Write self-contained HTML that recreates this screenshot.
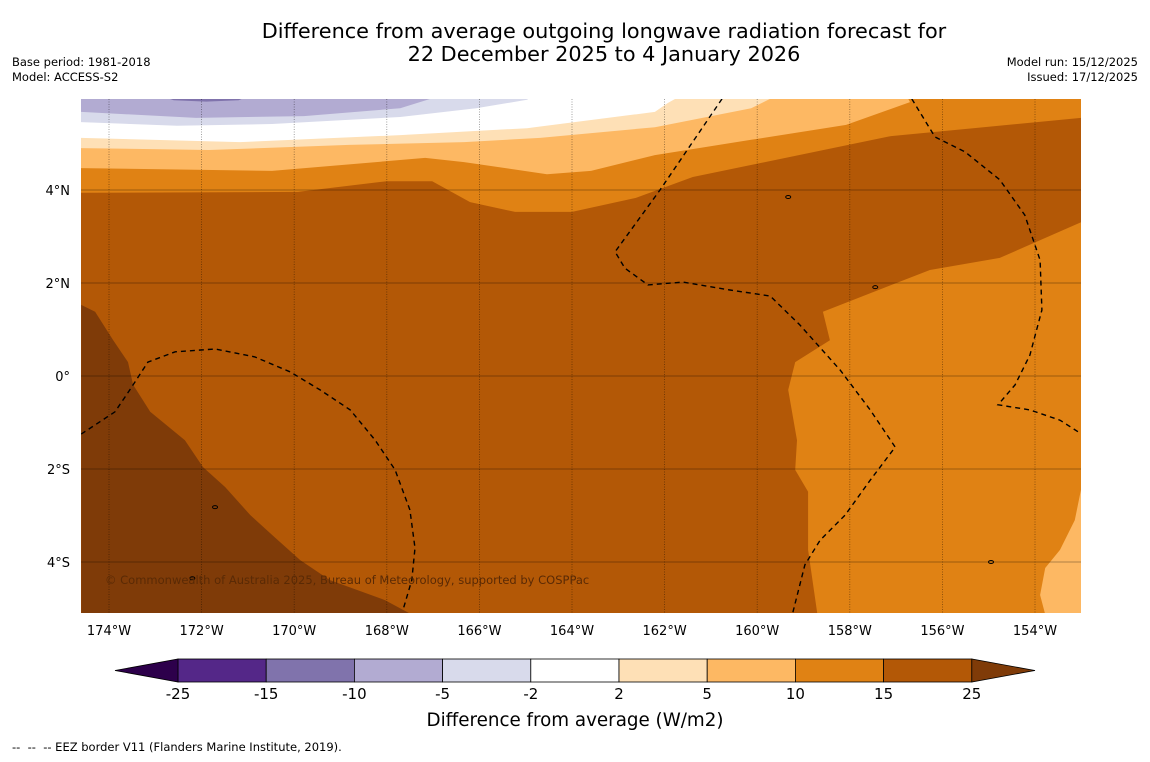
<!DOCTYPE html>
<html><head><meta charset="utf-8">
<style>
body{margin:0;background:#fff;width:1150px;height:758px;overflow:hidden;font-family:"DejaVu Sans",sans-serif;}
svg text{font-family:"DejaVu Sans",sans-serif;}
</style></head>
<body>
<svg id="chart" width="1150" height="758" viewBox="0 0 1150 758" xmlns="http://www.w3.org/2000/svg">
<text x="604" y="38" font-size="20.8" text-anchor="middle" fill="#000">Difference from average outgoing longwave radiation forecast for</text>
<text x="604" y="61" font-size="20.8" text-anchor="middle" fill="#000">22 December 2025 to 4 January 2026</text>
<text x="12" y="66" font-size="11.5">Base period: 1981-2018</text>
<text x="12" y="81" font-size="11.5">Model: ACCESS-S2</text>
<text x="1138" y="66" font-size="11.5" text-anchor="end">Model run: 15/12/2025</text>
<text x="1138" y="81" font-size="11.5" text-anchor="end">Issued: 17/12/2025</text>
<defs><clipPath id="mapclip"><rect x="81" y="99" width="1000" height="514"/></clipPath></defs>
<g id="map" clip-path="url(#mapclip)"></g>
<g id="overlay"></g>
<g id="cbar"></g>
<text x="575" y="726" font-size="18.3" text-anchor="middle">Difference from average (W/m2)</text>
<text x="12" y="751" font-size="11.5" xml:space="preserve">--  --  -- EEZ border V11 (Flanders Marine Institute, 2019).</text>
</svg>
<script>
// ---- data ----
const lonTicks=[-174,-172,-170,-168,-166,-164,-162,-160,-158,-156,-154];
const lonLabels=["174°W","172°W","170°W","168°W","166°W","164°W","162°W","160°W","158°W","156°W","154°W"];
const latTicks=[4,2,0,-2,-4];
const latLabels=["4°N","2°N","0°","2°S","4°S"];
const levels=[-25,-15,-10,-5,-2,2,5,10,15,25];
const levelColors=["#542788","#8073ac","#b2abd2","#d8daeb","#ffffff","#fee0b6","#fdb863","#e08214","#b35806"];
const underColor="#2d004b", overColor="#7f3b08";
const bnd15=[[-174.6,3.94],[-169.92,3.96],[-168.0,4.19],[-167.02,4.19],[-166.2,3.74],[-165.23,3.53],[-164.0,3.53],[-162.62,3.83],[-161.39,4.28],[-157.11,5.16],[-153.0,5.55]];
const bnd10=[[-174.6,4.47],[-170.48,4.41],[-167.17,4.69],[-166.33,4.6],[-164.54,4.34],[-163.59,4.41],[-162.21,4.75],[-160.13,5.08],[-158.08,5.4],[-156.7,5.89],[-156.81,6.1]];
const bnd5=[[-174.6,4.9],[-171.84,4.86],[-168.82,4.97],[-166.33,5.03],[-164.69,5.12],[-162.21,5.35],[-160.13,5.76],[-159.44,6.1]];
const bnd2=[[-174.6,5.12],[-171.17,5.03],[-167.71,5.18],[-164.97,5.33],[-162.21,5.68],[-161.93,5.87],[-161.52,6.1]];
const bndm2=[[-174.6,5.46],[-172.53,5.38],[-170.48,5.42],[-167.71,5.57],[-166.07,5.76],[-164.97,5.94],[-164.76,6.1]];
const bndm5=[[-174.6,5.68],[-172.12,5.55],[-169.79,5.59],[-167.71,5.76],[-166.61,6.1]];
const blobM10=[[-173.1,6.1],[-172.6,5.93],[-171.9,5.9],[-171.2,5.93],[-170.8,6.1]];
const orangeEast=[[-153.0,3.31],[-154.76,2.54],[-156.27,2.28],[-157.56,1.78],[-158.58,1.38],[-158.43,0.77],[-159.18,0.3],[-159.33,-0.3],[-159.14,-1.38],[-159.18,-2.02],[-158.9,-2.49],[-158.9,-3.74],[-158.69,-5.2],[-153.0,-5.2]];
const lightSE=[[-153.0,-2.41],[-153.14,-3.1],[-153.46,-3.74],[-153.78,-4.13],[-153.89,-4.71],[-153.76,-5.2],[-153.0,-5.2]];
const brownSW=[[-174.6,1.53],[-174.3,1.38],[-173.91,0.77],[-173.59,0.3],[-173.48,-0.19],[-173.11,-0.77],[-172.36,-1.38],[-171.97,-1.96],[-171.49,-2.39],[-170.95,-2.99],[-170.41,-3.48],[-169.87,-3.96],[-169.23,-4.39],[-168.04,-4.82],[-167.33,-5.2],[-174.6,-5.2]];
const eez1=[[-160.76,5.96],[-162.1,4.0],[-163.07,2.67],[-162.86,2.32],[-162.36,1.96],[-161.6,2.02],[-160.59,1.85],[-159.72,1.72],[-159.08,1.1],[-158.21,0.13],[-157.56,-0.73],[-157.02,-1.53],[-157.56,-2.24],[-158.1,-2.99],[-158.64,-3.53],[-158.97,-4.06],[-159.23,-5.08]];
const eez2=[[-156.66,5.96],[-156.16,5.14],[-155.51,4.82],[-154.76,4.22],[-154.22,3.46],[-153.89,2.49],[-153.85,1.42],[-154.11,0.45],[-154.43,-0.19],[-154.8,-0.62],[-154.11,-0.73],[-153.46,-0.95],[-153.07,-1.2]];
const eez3=[[-174.6,-1.25],[-173.87,-0.77],[-173.55,-0.3],[-173.16,0.3],[-172.57,0.52],[-171.71,0.58],[-170.85,0.41],[-170.09,0.09],[-169.44,-0.3],[-168.79,-0.73],[-168.25,-1.38],[-167.82,-2.02],[-167.5,-2.88],[-167.39,-3.7],[-167.46,-4.39],[-167.65,-5.03]];
const islands=[[-159.33,3.85],[-157.45,1.91],[-171.71,-2.82],[-172.2,-4.35],[-154.95,-4.0]];

// ---- axes ----
const X0=109,PXLON=46.3,Y0=376,PXLAT=46.5;
const xS=lon=>X0+(lon+174)*PXLON;
const yS=lat=>Y0-lat*PXLAT;
const NS="http://www.w3.org/2000/svg";
const map=document.getElementById('map'),ov=document.getElementById('overlay'),cb=document.getElementById('cbar');
function mk(tag,attrs,parent){const e=document.createElementNS(NS,tag);for(const k in attrs)e.setAttribute(k,attrs[k]);parent.appendChild(e);return e;}
const pts=a=>a.map(p=>xS(p[0]).toFixed(1)+","+yS(p[1]).toFixed(1)).join(" ");
const TOP=6.3;
function above(line){const first=line[0],last=line[line.length-1];return pts([[first[0]-0.1,first[1]],...line,[last[0]+0.1,last[1]],[last[0]+0.1,TOP],[-175,TOP]]);}

let bg=mk('rect',{x:81,y:99,width:1000,height:514,fill:levelColors[8]},map);


const bands=[[bnd15,7,'band-10-15'],[bnd10,6,'band-5-10'],[bnd5,5,'band-2-5'],[bnd2,4,'band-neutral'],[bndm2,3,'band-minus5-minus2'],[bndm5,2,'band-minus10-minus5']];
bands.forEach(b=>{
  const p=mk('polygon',{points:above(b[0]),fill:levelColors[b[1]]},map);
  
  
});
let bl=mk('polygon',{points:pts(blobM10),fill:levelColors[1]},map);


let oe=mk('polygon',{points:pts(orangeEast),fill:levelColors[7]},map);


let ls=mk('polygon',{points:pts(lightSE),fill:levelColors[6]},map);


let bs=mk('polygon',{points:pts(brownSW),fill:overColor},map);



lonTicks.forEach((lon,i)=>{
  const x=xS(lon);
  const g=mk('line',{x1:x,x2:x,y1:99,y2:613,stroke:"#000","stroke-opacity":0.45,"stroke-width":0.8,"stroke-dasharray":"1,1.5"},map);
  
  
  const t=mk('text',{x:x,y:635,"font-size":13,"text-anchor":"middle"},ov);t.textContent=lonLabels[i];
  
  
});
latTicks.forEach((lat,i)=>{
  const y=yS(lat);
  const g=mk('line',{x1:81,x2:1081,y1:y,y2:y,stroke:"#000","stroke-opacity":0.3,"stroke-width":1},map);
  
  
  const t=mk('text',{x:70,y:y+5,"font-size":13,"text-anchor":"end"},ov);t.textContent=latLabels[i];
  
  
});
[eez1,eez2,eez3].forEach(l=>{
  const p=mk('polyline',{points:pts(l),fill:"none",stroke:"#000","stroke-width":1.4,"stroke-dasharray":"5,4"},map);
  
  
});
islands.forEach(p=>{
  const c=mk('ellipse',{cx:xS(p[0]),cy:yS(p[1]),rx:2.5,ry:1.5,fill:"none",stroke:"#000","stroke-width":1},map);
  
  
});
let cp=mk('text',{x:105,y:584,"font-size":11.5,fill:"#5a2a05"},map);
cp.textContent="© Commonwealth of Australia 2025, Bureau of Meteorology, supported by COSPPac";



const CB0=178,CBW=88.2,CBY=659,CBH=23;
for(let i=0;i<levelColors.length;i++){
  const r=mk('rect',{x:CB0+i*CBW,y:CBY,width:CBW,height:CBH,fill:levelColors[i],stroke:"#000","stroke-width":0.8},cb);
  
  
}
let tl=mk('polygon',{points:`115,670.5 ${CB0},${CBY} ${CB0},${CBY+CBH}`,fill:underColor,stroke:"#000","stroke-width":0.8},cb);


const CBE=CB0+levelColors.length*CBW;
let tr=mk('polygon',{points:`1035,670.5 ${CBE},${CBY} ${CBE},${CBY+CBH}`,fill:overColor,stroke:"#000","stroke-width":0.8},cb);


levels.forEach((v,i)=>{
  const t=mk('text',{x:CB0+i*CBW,y:699,"font-size":15,"text-anchor":"middle"},cb);t.textContent=v;
  
  
});
</script>
</body></html>
